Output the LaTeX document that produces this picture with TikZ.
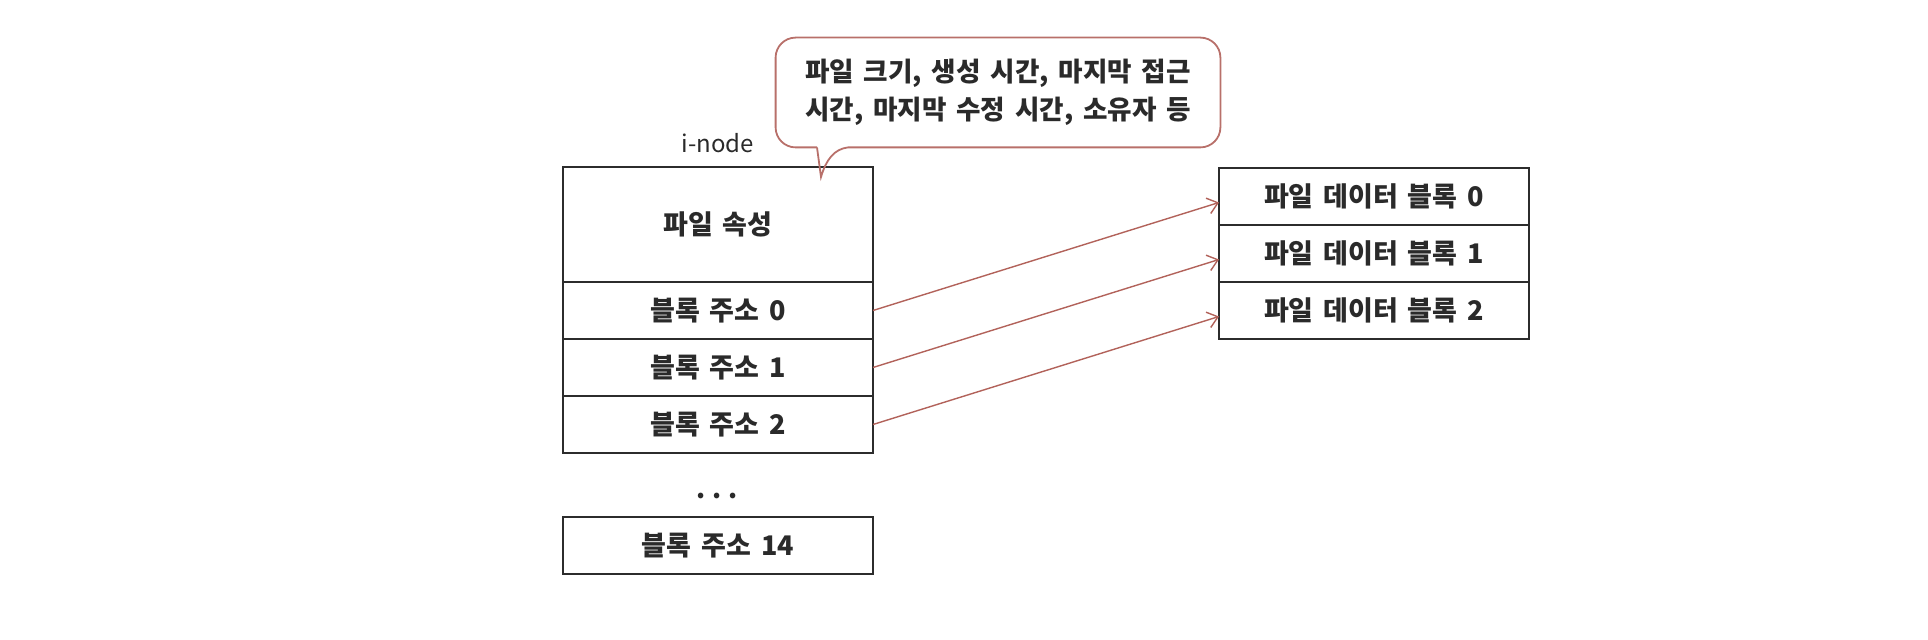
\documentclass[tikz,border=0pt]{standalone}
\usepackage{fontspec}
\setmainfont{Noto Sans CJK KR}[WordSpace=1.6]
\usepackage{tikz}
\usetikzlibrary{arrows.meta,positioning}
\usepackage{xcolor}
\definecolor{boxline}{HTML}{2C2C2C}
\definecolor{inktext}{HTML}{2A2A2A}
\definecolor{ptrred}{HTML}{B2625A}
\definecolor{noteline}{HTML}{B8706A}
\tikzset{
  cell/.style={draw=boxline, line width=1.2pt, fill=white, inner sep=0pt, outer sep=0pt,
    minimum width=155pt, minimum height=28.5pt, text=inktext,
    font=\fontsize{13.5}{16}\selectfont\bfseries},
  attrcell/.style={cell, minimum height=57.5pt},
  ptr/.style={draw=ptrred, line width=0.7pt, -{Straight Barb[length=5pt,width=8pt]}},
  notetext/.style={inner sep=0pt, align=left, text=inktext,
    minimum width=222pt, minimum height=54.5pt,
    font=\fontsize{13.3}{19}\selectfont\bfseries},
  noteborder/.style={draw=noteline, line width=0.9pt}
}

\begin{document}
\begin{tikzpicture}[x=0.5pt,y=-0.5pt]
  \useasboundingbox (0,0) rectangle (1928,640);

  % i-node
  \node[attrcell, anchor=north west] (attr) at (563,167) {파일 속성};
  \node[cell, below=0pt of attr] (addr0) {블록 주소 0};
  \node[cell, below=0pt of addr0] (addr1) {블록 주소 1};
  \node[cell, below=0pt of addr1] (addr2) {블록 주소 2};
  \node[text=inktext, font=\fontsize{13}{15}\selectfont\bfseries] (dots) at (717,496) {.\hspace{3.5pt}.\hspace{3.5pt}.};
  \node[cell, below=32pt of addr2] (addr14) {블록 주소 14};
  \node[text=inktext, font=\fontsize{12}{14}\selectfont] (inode) at (718,143) {i-node};

  % data blocks
  \node[cell, anchor=north west] (data0) at (1219,168) {파일 데이터 블록 0};
  \node[cell, below=0pt of data0] (data1) {파일 데이터 블록 1};
  \node[cell, below=0pt of data1] (data2) {파일 데이터 블록 2};

  % pointers
  \draw[ptr] (addr0.east) -- ([yshift=-3pt]data0.west);
  \draw[ptr] (addr1.east) -- ([yshift=-3pt]data1.west);
  \draw[ptr] (addr2.east) -- ([yshift=-3pt]data2.west);

  % callout
  \node[notetext] (note) at (998,92.5) {파일 크기, 생성 시간, 마지막 접근\\시간, 마지막 수정 시간, 소유자 등};
  \coordinate (tip) at (821,177);
  \coordinate (tailL) at (note.south west -| 817,0);
  \coordinate (tailR) at (note.south west -| 848,0);
  \draw[noteborder] (tailL) -- (tip) .. controls (826,160) and (834,149) .. (tailR)
    [rounded corners=10pt] -- (note.south east) -- (note.north east)
    -- (note.north west) -- (note.south west) -- (tailL);
%  \draw[help lines] (0,0) grid[step=100] (1928,640);
\end{tikzpicture}
\end{document}
